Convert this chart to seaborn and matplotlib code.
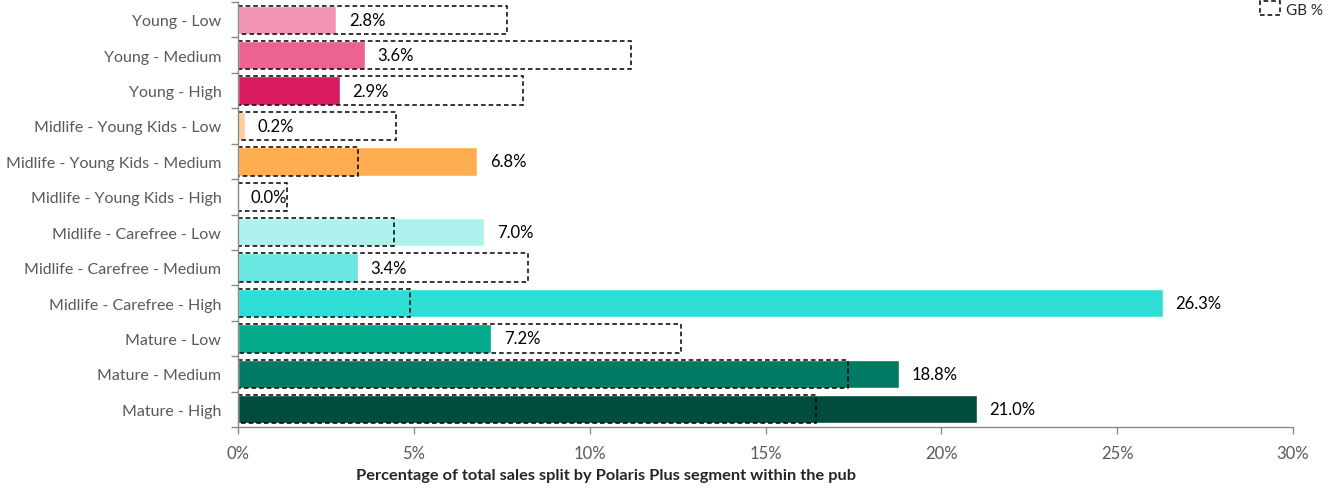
import matplotlib
matplotlib.use("Agg")
import matplotlib.pyplot as plt
import seaborn as sns
import pandas as pd
from matplotlib.patches import Patch
from matplotlib.ticker import FixedLocator, FuncFormatter

categories = ["Young - Low", "Young - Medium", "Young - High",
              "Midlife - Young Kids - Low", "Midlife - Young Kids - Medium", "Midlife - Young Kids - High",
              "Midlife - Carefree - Low", "Midlife - Carefree - Medium", "Midlife - Carefree - High",
              "Mature - Low", "Mature - Medium", "Mature - High"]
pub_pct = [2.8, 3.6, 2.9, 0.2, 6.8, 0.0, 7.0, 3.4, 26.3, 7.2, 18.8, 21.0]
gb_pct = [7.65, 11.17, 8.1, 4.49, 3.41, 1.39, 4.44, 8.25, 4.89, 12.6, 17.34, 16.43]
colors = ["#F193B5", "#EC6291", "#D81B60", "#FFCC99", "#FFAD51", "#FF8C1A",
          "#AEF2EE", "#6BE8E2", "#2DDDD6", "#02A98A", "#007A63", "#004D3E"]

sns.set_style("white")
plt.rcParams["font.family"] = ["Lato", "DejaVu Sans"]

df = pd.DataFrame({"cat": categories, "pub": pub_pct, "gb": gb_pct})

fig = plt.figure(figsize=(13.31, 4.89), dpi=100)
ax = fig.add_axes([238/1331, 1 - 428/489, (1293-238)/1331, (428-3)/489])

sns.barplot(data=df, x="pub", y="cat", hue="cat", palette=colors, legend=False,
            width=0.8, ax=ax, saturation=1, order=categories, hue_order=categories)
sns.barplot(data=df, x="gb", y="cat", color="black", fill=False, linestyle=(0, (3, 2)),
            linewidth=1.1, width=0.8, ax=ax, order=categories)

# value labels on pub bars
for c in ax.containers[:len(categories)]:
    ax.bar_label(c, labels=[f"{v:.1f}%" for v in c.datavalues], padding=9,
                 fontsize=12, color="black")

ax.set_xlim(0, 30)
ax.set_ylim(len(categories) - 0.5, -0.5)
ax.xaxis.set_major_locator(FixedLocator([0, 5, 10, 15, 20, 25, 30]))
ax.xaxis.set_major_formatter(FuncFormatter(lambda v, p: f"{v:.0f}%"))
ax.tick_params(axis="x", which="major", length=5, width=1, color="#898989",
               labelsize=12, labelcolor="#595959", pad=8, bottom=True)
ax.set_yticks(range(len(categories)))
ax.set_yticklabels(categories)
ax.tick_params(axis="y", which="major", length=0, labelsize=11.5, labelcolor="#595959", pad=12)
ax.yaxis.set_minor_locator(FixedLocator([i - 0.5 for i in range(len(categories) + 1)]))
ax.tick_params(axis="y", which="minor", length=5, width=1, color="#898989", left=True)

for s in ["top", "right"]:
    ax.spines[s].set_visible(False)
for s in ["left", "bottom"]:
    ax.spines[s].set_color("#898989")
    ax.spines[s].set_linewidth(1)

ax.set_ylabel("")
ax.set_xlabel("Percentage of total sales split by Polaris Plus segment within the pub",
              fontsize=11.8, fontweight="bold", color="#262626")
ax.xaxis.set_label_coords((606 - 238) / (1293 - 238), -(476 - 428) / (428 - 3))
ax.xaxis.label.set_va("center")

handle = Patch(facecolor="white", edgecolor="black", linestyle=(0, (3, 2)), linewidth=1.1)
fig.legend([handle], ["GB %"], loc="center left", bbox_to_anchor=(1252/1331, 1 - 10/489),
           frameon=False, fontsize=11, handlelength=1.3, handleheight=1.0,
           borderpad=0, handletextpad=0.4)

fig.savefig("out.png", dpi=100)
